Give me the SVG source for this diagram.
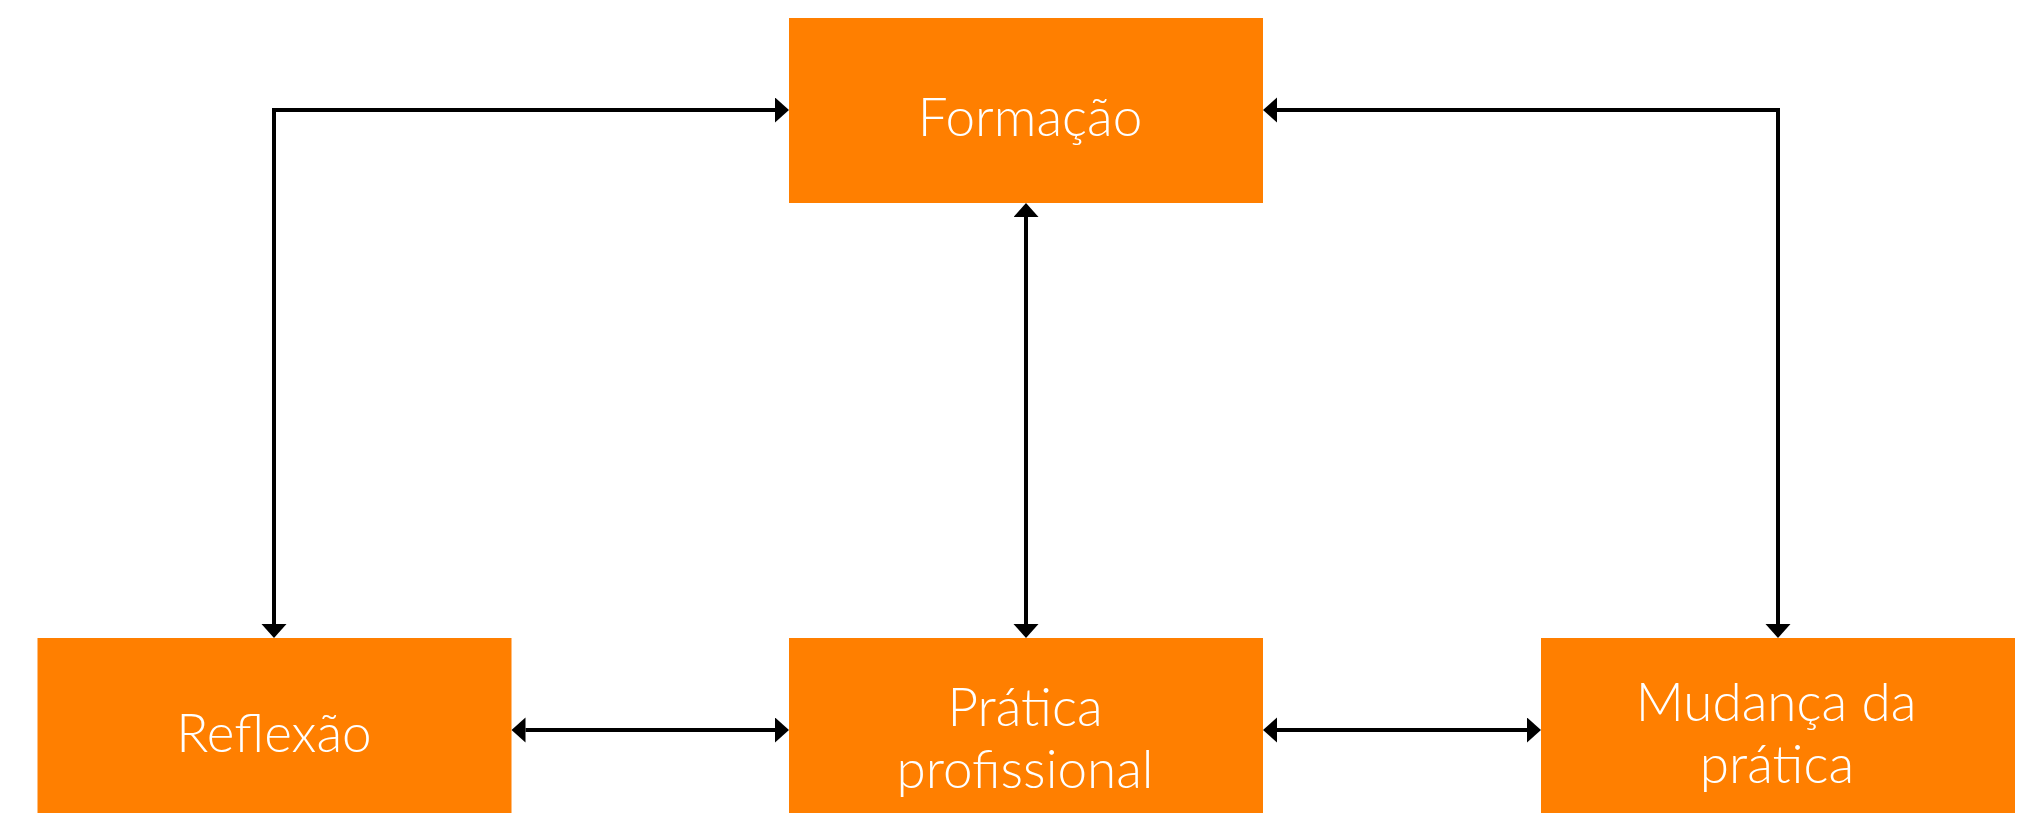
<svg xmlns="http://www.w3.org/2000/svg" width="2039" height="813" viewBox="0 0 2039 813">
  <style>
    .box { fill: #FF7F00; }
    .lbl { font-family: "Segoe UI Light", Lato, "Open Sans", sans-serif; font-weight: 300; font-size: 53px; fill: #FFFFFF; text-anchor: middle; }
    .conn { fill: none; stroke: #000000; stroke-width: 4; stroke-linejoin: miter; marker-start: url(#arrow); marker-end: url(#arrow); }
  </style>
  <defs>
    <marker id="arrow" markerUnits="userSpaceOnUse" markerWidth="15" markerHeight="26" refX="0" refY="12.5" orient="auto-start-reverse" viewBox="0 0 15 26">
      <path d="M0,0 L14,12.5 L0,25 Z" fill="#000000"/>
    </marker>
  </defs>
  <rect width="2039" height="813" fill="#FFFFFF"/>
  <g id="connectors">
    <path class="conn" d="M775,110 H274 V624"/>
    <path class="conn" d="M1277,110 H1778 V624"/>
    <path class="conn" d="M1026,217 V624"/>
    <path class="conn" d="M525.5,730 H775"/>
    <path class="conn" d="M1277,730 H1527"/>
  </g>
  <g id="formacao">
    <rect class="box" x="789" y="18" width="474" height="185"/>
    <text class="lbl" x="1030" y="136">Formação</text>
  </g>
  <g id="reflexao">
    <rect class="box" x="37.5" y="638" width="474" height="185"/>
    <text class="lbl" x="274" y="752">Reflexão</text>
  </g>
  <g id="pratica">
    <rect class="box" x="789" y="638" width="474" height="185"/>
    <text class="lbl" x="1025" y="726">Prática</text>
    <text class="lbl" x="1025" y="788">profissional</text>
  </g>
  <g id="mudanca">
    <rect class="box" x="1541" y="638" width="474" height="185"/>
    <text class="lbl" x="1776" y="721">Mudança da</text>
    <text class="lbl" x="1777" y="783">prática</text>
  </g>
</svg>
